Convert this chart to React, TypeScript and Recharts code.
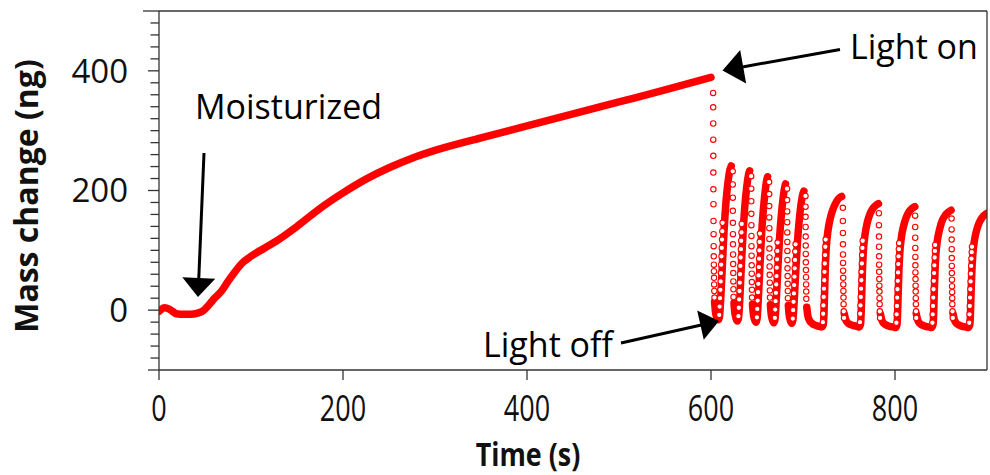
import React from 'react';
import { ComposedChart, Line, Scatter, XAxis, YAxis, ReferenceLine } from 'recharts';

// ---------- data (time in s, mass change in ng) ----------
const moistTime = [0, 6, 12, 19, 27, 34, 42, 48, 52, 56, 61, 68, 75, 82, 90, 100, 115, 130, 150, 175, 200, 225, 250, 275, 300, 350, 400, 450, 500, 550, 600];
const moistMass = [-2, 4, 1, -6, -7, -7, -5, -1, 5, 12, 21, 32, 48, 63, 78, 90, 104, 118, 140, 170, 196, 219, 238, 254, 267, 288, 308, 328, 348, 368, 389];

// dense (slow) parts of the light on/off cycles, drawn as a continuous trace
const cycleTraces: [number, number][][] = [
  [[603.9, 14], [604.8, -2], [606.2, -12], [607.8, -16], [609.1, -12], [610, 4], [611.2, 38], [612.7, 86], [614.4, 138], [616.4, 183], [618.4, 213], [620.2, 232], [622, 241]],
  [[625, 12], [625.8, -3], [627.1, -13], [628.6, -18], [629.9, -13], [630.8, 4], [631.9, 38], [633.3, 84], [635, 133], [636.9, 176], [638.8, 205], [640.5, 224], [642, 233]],
  [[645.1, 10], [645.9, -5], [647.2, -15], [648.7, -20], [650, -15], [650.9, 3], [652, 36], [653.4, 80], [655, 127], [656.9, 168], [658.7, 196], [660.2, 214], [661.5, 223]],
  [[664.6, 9], [665.4, -6], [666.7, -16], [668.2, -21], [669.5, -16], [670.4, 2], [671.5, 34], [672.9, 76], [674.5, 120], [676.4, 158], [678.2, 185], [679.7, 202], [681, 211]],
  [[684.1, 8], [684.9, -7], [686.2, -17], [687.7, -22], [689, -17], [689.9, 1], [691, 32], [692.4, 72], [694, 114], [695.9, 150], [697.8, 176], [699.5, 192], [701, 199]],
  [[704.1, 5], [705.2, -9], [707, -17], [709.8, -22], [713.3, -25], [717, -27], [720.3, -28], [722.1, -24], [722.9, -2], [723.5, 30], [724.2, 68], [725.2, 102], [726.9, 130], [729.4, 152], [732.4, 168], [735.9, 180], [739, 187], [742, 190]],
  [[744.9, -6], [746.2, -15], [748.5, -21], [751.5, -24], [755, -26], [758.6, -27], [761.2, -28], [762.6, -23], [763.3, -1], [763.9, 30], [764.6, 66], [765.6, 98], [767.3, 125], [769.8, 146], [772.6, 160], [776, 170], [779, 175], [782, 178]],
  [[784.1, -6], [785.4, -15], [787.7, -22], [790.7, -25], [794.2, -27], [797.8, -28], [800.6, -29], [802.2, -24], [802.9, -2], [803.5, 30], [804.2, 64], [805.2, 95], [806.9, 121], [809.4, 141], [812.2, 155], [815.5, 165], [818.5, 170], [821.5, 173]],
  [[823.1, -6], [824.4, -15], [826.7, -22], [829.7, -25], [833.2, -27], [836.8, -28], [839.6, -29], [841.4, -24], [842.1, -2], [842.7, 30], [843.4, 62], [844.4, 92], [846.1, 117], [848.6, 136], [851.4, 150], [854.8, 159], [858, 164], [861, 167]],
  [[863.1, -6], [864.4, -15], [866.7, -22], [869.7, -25], [873.2, -27], [876.8, -28], [879.6, -29], [881.4, -24], [882.1, -2], [882.7, 30], [883.4, 60], [884.4, 89], [886.1, 114], [888.6, 133], [891.4, 146], [894.8, 155], [898, 160], [902, 163]],
];

// fast drops after "light on" (sparse samples)
const dropSamples: [number, number][][] = [
  [[602.3, 363], [602.35, 339], [602.4, 312], [602.45, 285], [602.5, 258], [602.55, 230], [602.6, 202], [602.65, 177], [602.7, 149], [602.8, 127], [602.9, 107], [603, 90], [603.1, 76], [603.2, 65], [603.3, 54], [603.4, 43], [603.6, 32], [603.8, 21]],
  [[623.6, 232], [623.65, 210], [623.7, 188], [623.75, 166], [623.8, 146], [623.85, 127], [623.9, 110], [624, 93], [624.1, 77], [624.2, 62], [624.3, 48], [624.4, 35], [624.5, 22]],
  [[643.7, 224], [643.75, 203], [643.8, 182], [643.85, 161], [643.9, 142], [643.95, 124], [644, 107], [644.1, 91], [644.2, 75], [644.3, 61], [644.4, 47], [644.5, 34], [644.6, 21]],
  [[663.2, 214], [663.25, 194], [663.3, 174], [663.35, 155], [663.4, 137], [663.45, 119], [663.5, 103], [663.6, 88], [663.7, 73], [663.8, 59], [663.9, 46], [664, 33], [664.1, 21]],
  [[682.7, 203], [682.75, 184], [682.8, 165], [682.85, 147], [682.9, 130], [682.95, 114], [683, 99], [683.1, 84], [683.2, 70], [683.3, 57], [683.4, 44], [683.5, 32], [683.6, 20]],
  [[702.7, 191], [702.75, 173], [702.8, 156], [702.85, 139], [702.9, 123], [702.95, 108], [703, 94], [703.1, 80], [703.2, 67], [703.3, 55], [703.4, 43], [703.5, 31], [703.6, 19]],
  [[743.3, 171], [743.35, 149], [743.4, 129], [743.45, 110], [743.5, 93], [743.55, 79], [743.6, 66], [743.7, 54], [743.8, 43], [743.9, 32], [744, 21], [744.1, 10], [744.3, -2], [744.6, -13]],
  [[782.5, 162], [782.55, 142], [782.6, 123], [782.65, 106], [782.7, 90], [782.75, 76], [782.8, 64], [782.9, 52], [783, 41], [783.1, 31], [783.2, 20], [783.3, 10], [783.5, -2], [783.8, -13]],
  [[821.9, 158], [821.95, 139], [822, 121], [822.05, 104], [822.1, 89], [822.15, 75], [822.2, 63], [822.3, 52], [822.4, 41], [822.5, 31], [822.6, 20], [822.7, 10], [822.9, -2], [823.1, -13]],
  [[861.5, 153], [861.55, 135], [861.6, 118], [861.65, 102], [861.7, 87], [861.75, 74], [861.8, 62], [861.9, 51], [862, 40], [862.1, 30], [862.2, 20], [862.3, 10], [862.5, -2], [862.8, -13]],
];

// fast rises after "light off" (sparse samples on the leading edge)
const riseSamples: [number, number][][] = [
  [[609, -8], [609.4, 6], [609.8, 20], [610.2, 34], [610.5, 48], [610.8, 62], [611.1, 76], [611.4, 90], [611.7, 104], [612, 118], [612.3, 132], [612.6, 146]],
  [[629.8, -10], [630.2, 4], [630.6, 18], [631, 32], [631.3, 46], [631.6, 60], [631.9, 74], [632.2, 88], [632.5, 102], [632.8, 116], [633.1, 130], [633.4, 144]],
  [[649.9, -12], [650.3, 2], [650.7, 16], [651.1, 30], [651.4, 44], [651.7, 58], [652, 72], [652.3, 86], [652.6, 100], [652.9, 114], [653.2, 128]],
  [[669.4, -13], [669.8, 1], [670.2, 15], [670.6, 29], [670.9, 43], [671.2, 57], [671.5, 71], [671.8, 85], [672.1, 99], [672.4, 113]],
  [[688.9, -14], [689.3, 0], [689.7, 14], [690.1, 28], [690.4, 42], [690.7, 56], [691, 70], [691.3, 84], [691.6, 98], [691.9, 110]],
  [[721.6, -20], [721.9, -6], [722.2, 8], [722.5, 22], [722.8, 36], [723.1, 50], [723.4, 64], [723.7, 78], [724, 92], [724.3, 106], [724.6, 118]],
  [[761.9, -20], [762.2, -6], [762.5, 8], [762.8, 22], [763.1, 36], [763.4, 50], [763.7, 64], [764, 78], [764.3, 92], [764.6, 104], [764.9, 116]],
  [[801.5, -21], [801.8, -7], [802.1, 7], [802.4, 21], [802.7, 35], [803, 49], [803.3, 63], [803.6, 77], [803.9, 90], [804.2, 102], [804.5, 112]],
  [[840.7, -21], [841, -7], [841.3, 7], [841.6, 21], [841.9, 35], [842.2, 49], [842.5, 62], [842.8, 75], [843.1, 88], [843.4, 99], [843.7, 109]],
  [[880.7, -21], [881, -7], [881.3, 7], [881.6, 21], [881.9, 35], [882.2, 48], [882.5, 61], [882.8, 74], [883.1, 86], [883.4, 97], [883.7, 106]],
];

const xTicks = [0, 200, 400, 600, 800];
const yTicks = [-100, -80, -60, -40, -20, 0, 20, 40, 60, 80, 100, 120, 140, 160, 180, 200, 220, 240, 260, 280, 300, 320, 340, 360, 380, 400, 420, 440, 460, 480, 500];
const yLabelTicks = [0, 200, 400];
const xTitle = 'Time (s)';
const yTitle = 'Mass change (ng)';

// ---------- helpers ----------
const RED = '#ff0000';
const AXIS = '#333333';
const FONT = '"Open Sans", "DejaVu Sans", sans-serif';

const toPts = (arr: [number, number][]) => arr.map(([t, v]) => ({ t, v }));
const mainCurve = moistTime.map((t, i) => ({ t, v: moistMass[i] }));
const circles = [...dropSamples, ...riseSamples].flatMap(toPts);

const Ring = (props: any) => {
  const { cx, cy } = props;
  if (cx == null || cy == null) return null;
  return <circle cx={cx} cy={cy} r={2.7} fill="#ffffff" stroke={RED} strokeWidth={1.1} />;
};

const YTick = (props: any) => {
  const { x, y, payload } = props;
  const v = payload.value;
  const len = v === 500 ? 16 : yLabelTicks.includes(v) || v === -100 ? 11 : 8.5;
  return (
    <g>
      <line x1={x - len} x2={x} y1={y} y2={y} stroke={AXIS} strokeWidth={1.3} />
      {yLabelTicks.includes(v) && (
        <text x={x - 31} y={y} dy="0.355em" textAnchor="end" fontSize={33} fontFamily={FONT} fill="#111">
          {v}
        </text>
      )}
    </g>
  );
};

const XTick = (props: any) => {
  const { x, y, payload } = props;
  return (
    <g>
      <line x1={x} x2={x} y1={y} y2={y + 10} stroke={AXIS} strokeWidth={1.3} />
      <text transform={`translate(${x},${y + 50.5}) scale(0.75,1)`} textAnchor="middle" fontSize={36} fontFamily={FONT} fill="#111">
        {payload.value}
      </text>
    </g>
  );
};

const Arrow = ({ x1, y1, x2, y2, len, half }: { x1: number; y1: number; x2: number; y2: number; len: number; half: number }) => {
  const dx = x2 - x1;
  const dy = y2 - y1;
  const d = Math.hypot(dx, dy);
  const ux = dx / d;
  const uy = dy / d;
  const bx = x2 - ux * len;
  const by = y2 - uy * len;
  const nx = -uy;
  const ny = ux;
  return (
    <g>
      <line x1={x1} y1={y1} x2={bx + ux * 2} y2={by + uy * 2} stroke="#000" strokeWidth={3} />
      <polygon points={`${x2},${y2} ${bx + nx * half},${by + ny * half} ${bx - nx * half},${by - ny * half}`} fill="#000" />
    </g>
  );
};

export default function App() {
  return (
    <div style={{ position: 'absolute', left: 0, top: 0, width: 990, height: 475, background: '#fff', overflow: 'hidden' }}>
      <ComposedChart width={990} height={475} margin={{ top: 11, right: 3, bottom: 35, left: 79 }}>
        <XAxis
          type="number"
          dataKey="t"
          domain={[0, 900]}
          ticks={xTicks}
          allowDataOverflow
          height={70}
          tickSize={0}
          tickMargin={0}
          tickLine={false}
          axisLine={{ stroke: AXIS, strokeWidth: 1.3 }}
          tick={XTick}
          interval={0}
        />
        <YAxis
          type="number"
          dataKey="v"
          domain={[-100, 500]}
          ticks={yTicks}
          allowDataOverflow
          width={80}
          tickSize={0}
          tickMargin={0}
          tickLine={false}
          axisLine={{ stroke: AXIS, strokeWidth: 1.3 }}
          tick={YTick}
          interval={0}
        />
        <Line
          data={mainCurve}
          dataKey="v"
          type="monotone"
          stroke={RED}
          strokeWidth={7.5}
          strokeLinecap="round"
          strokeLinejoin="round"
          dot={false}
          activeDot={false}
          isAnimationActive={false}
        />
        {cycleTraces.map((seg, i) => (
          <Line
            key={i}
            data={toPts(seg)}
            dataKey="v"
            type="monotone"
            stroke={RED}
            strokeWidth={7.5}
            strokeLinecap="round"
            strokeLinejoin="round"
            dot={false}
            activeDot={false}
            isAnimationActive={false}
          />
        ))}
        <Scatter data={circles} dataKey="v" shape={Ring} isAnimationActive={false} />
        <ReferenceLine y={500} stroke={AXIS} strokeWidth={1.3} />
        <ReferenceLine x={900} stroke={AXIS} strokeWidth={1.3} />
      </ComposedChart>
      <svg width={990} height={475} style={{ position: 'absolute', left: 0, top: 0, pointerEvents: 'none' }}>
        <text transform="translate(38,196) rotate(-90)" textAnchor="middle" fontSize={32} fontWeight={700} fontFamily={FONT} fill="#111">
          {yTitle}
        </text>
        <text transform="translate(528,465.5) scale(0.84,1)" textAnchor="middle" fontSize={32} fontWeight={700} fontFamily={FONT} fill="#111">
          {xTitle}
        </text>
        <text x={195} y={118.5} fontSize={34} fontFamily={FONT} fill="#000">Moisturized</text>
        <Arrow x1={204} y1={153} x2={198} y2={297} len={19} half={16.5} />
        <text x={850} y={58.5} fontSize={34} fontFamily={FONT} fill="#000">Light on</text>
        <Arrow x1={840} y1={49.5} x2={722.5} y2={70.5} len={21} half={17} />
        <text x={483} y={357} fontSize={34} fontFamily={FONT} fill="#000">Light off</text>
        <Arrow x1={621} y1={343} x2={719} y2={321} len={19} half={15} />
      </svg>
    </div>
  );
}
